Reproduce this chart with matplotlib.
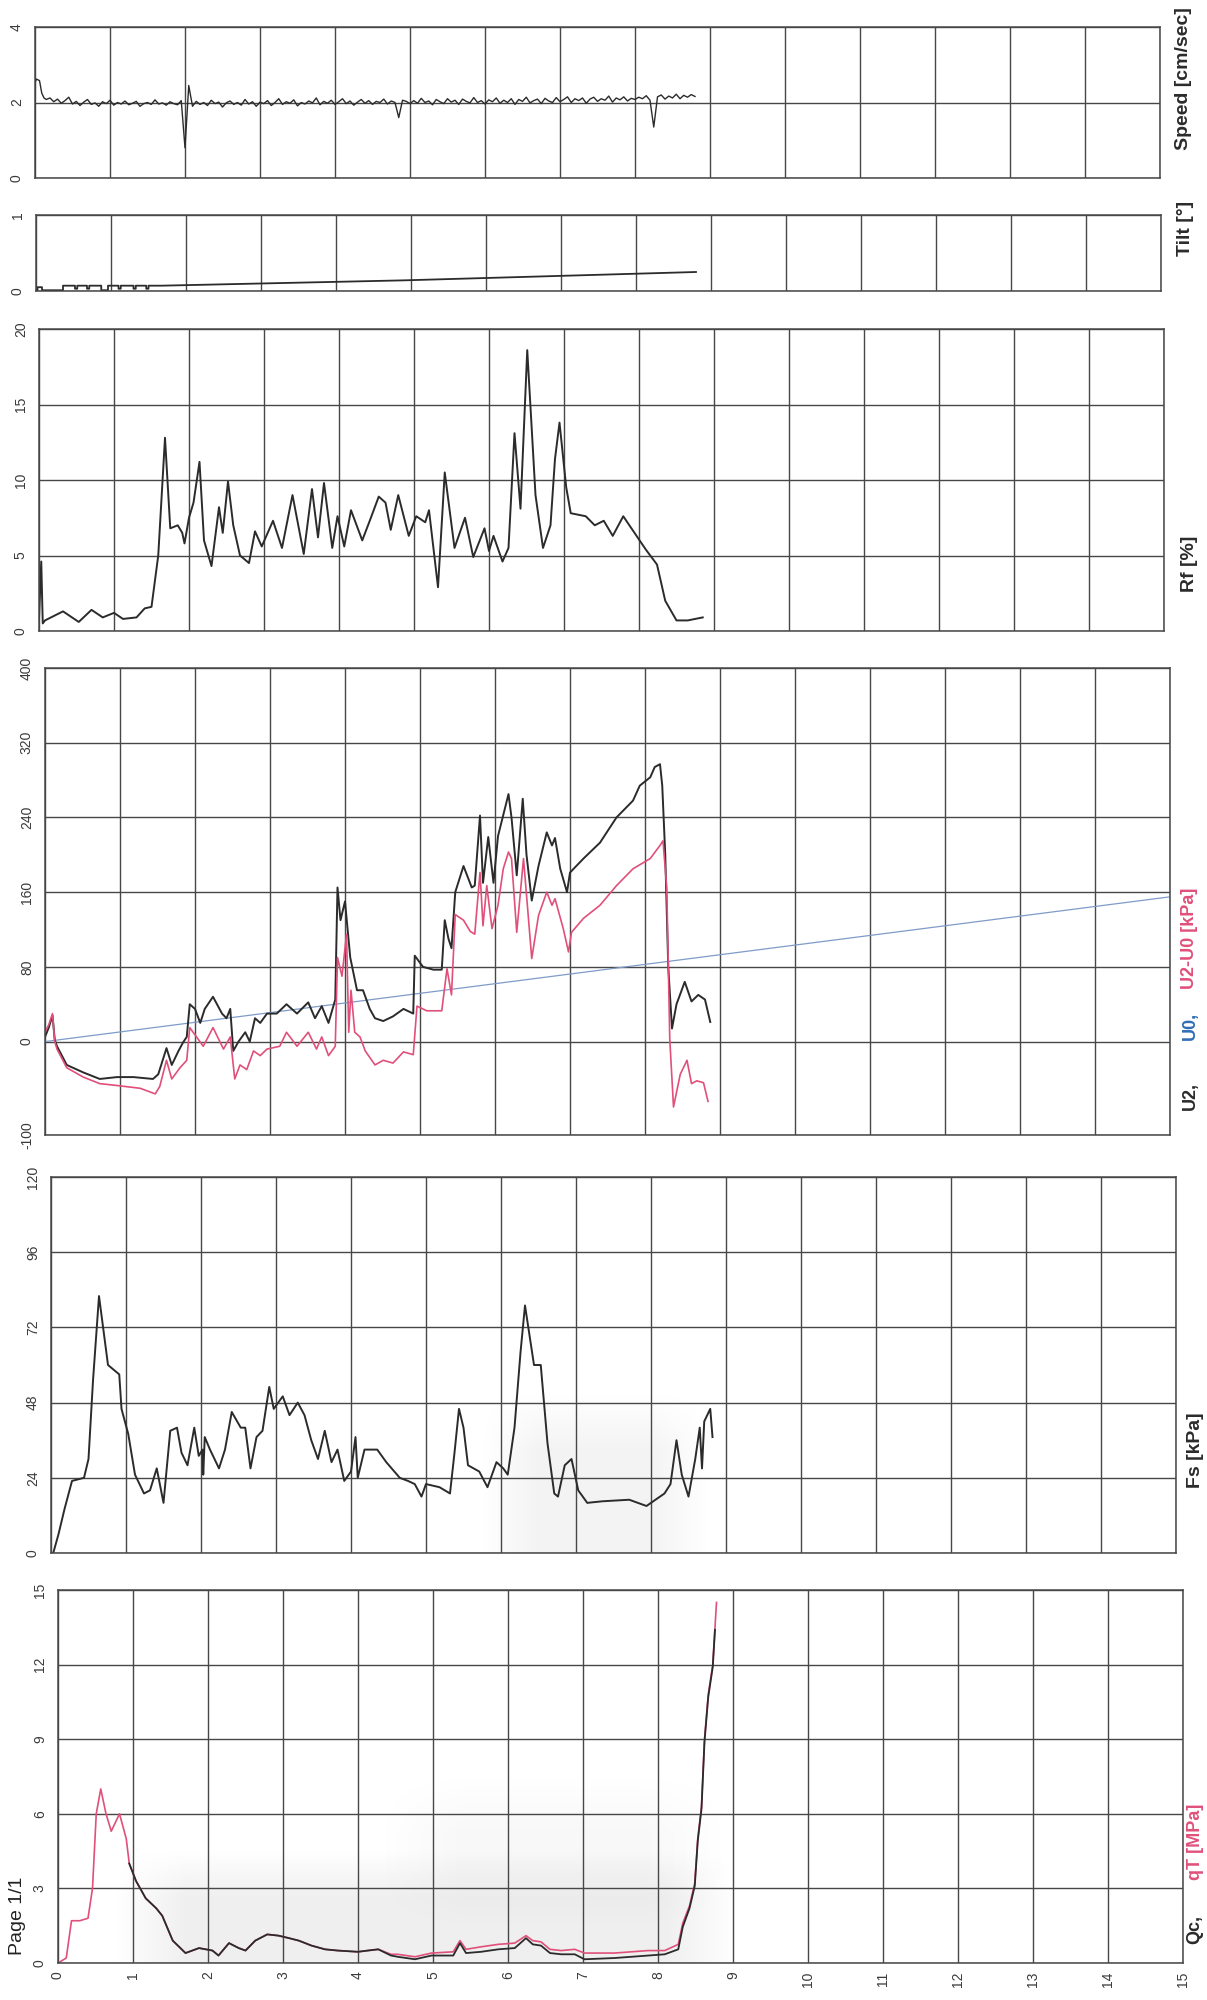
import numpy as np
import matplotlib
matplotlib.use("Agg")
import matplotlib.pyplot as plt

plt.rcParams["font.family"] = ["Liberation Sans", "DejaVu Sans"]
plt.rcParams["axes.unicode_minus"] = False

# --- CPTu log data (depth in m) ---
speed_depth = np.concatenate([[0.0, 0.005, 0.02, 0.06, 0.09, 0.12],
                              np.round(np.arange(0.15, 8.8001, 0.05), 2)])
speed_cms = [0.0, 2.55, 2.62, 2.58, 2.25, 2.12,
             2.08, 2.12, 2.02, 2.09, 1.98, 2.05, 2.14, 1.96, 2.03, 1.92, 2.01, 2.08, 1.95, 1.99, 1.90, 2.02, 1.97, 2.06,
             1.93, 2.00, 1.96, 2.04, 1.94, 1.98, 2.03, 1.90, 1.97, 2.00, 1.95, 2.07, 1.96, 1.99, 1.93, 2.02, 1.97, 1.94, 2.05, 0.80,
             2.45, 1.90, 2.03, 1.95, 2.00, 1.92, 2.06, 1.97, 2.01, 1.88, 1.99, 2.04, 1.95, 2.00, 1.93, 2.08, 1.96, 2.02, 1.90, 2.01,
             1.97, 2.05, 1.92, 2.00, 2.10, 1.95, 2.02, 1.98, 2.07, 1.91, 2.00, 1.96, 2.04, 1.99, 2.12, 1.94, 2.03, 1.98, 2.06, 1.95,
             2.02, 2.10, 1.97, 2.04, 1.93, 2.01, 2.08, 1.98, 2.05, 1.95, 2.03, 2.00, 2.09, 1.96, 2.04, 2.00, 1.60, 2.06, 2.03, 1.97,
             2.05, 1.98, 2.11, 2.00, 2.04, 1.94, 2.08, 2.02, 1.97, 2.10, 2.01, 2.06, 1.95, 2.09, 2.03, 1.99, 2.13, 2.00, 2.05, 1.96,
             2.07, 2.02, 2.12, 1.98, 2.06, 2.00, 2.10, 1.95, 2.08, 2.03, 2.14, 1.99, 2.05, 2.09, 1.97, 2.11, 2.04, 2.00, 2.13, 2.02,
             2.08, 2.15, 2.00, 2.10, 2.05, 2.12, 1.98, 2.09, 2.14, 2.03, 2.10, 2.06, 2.17, 2.01, 2.12, 2.07, 2.15, 2.04, 2.11, 2.08,
             2.14, 2.10, 2.18, 2.06, 1.35, 2.15, 2.20, 2.09, 2.17, 2.12, 2.22, 2.10, 2.19, 2.14, 2.21, 2.16]

tilt_depth = [0.0, 0.02, 0.02, 0.08, 0.08, 0.36, 0.36, 0.52, 0.52, 0.55, 0.55, 0.68, 0.68, 0.71, 0.71, 0.87, 0.87,
              0.96, 0.96, 1.1, 1.1, 1.13, 1.13, 1.3, 1.3, 1.33, 1.33, 1.47, 1.47, 1.5, 1.5, 1.67, 4.9, 8.8]
tilt_deg = [0.0, 0.0, 0.05, 0.05, 0.01, 0.01, 0.07, 0.07, 0.03, 0.03, 0.07, 0.07, 0.03, 0.03, 0.07, 0.07, 0.01,
            0.01, 0.07, 0.07, 0.03, 0.03, 0.07, 0.07, 0.03, 0.03, 0.07, 0.07, 0.03, 0.03, 0.07, 0.07, 0.14, 0.25]

rf_depth = [0.0, 0.03, 0.05, 0.08, 0.12, 0.32, 0.53, 0.7, 0.85, 1.0, 1.12, 1.3, 1.41, 1.5, 1.59, 1.68, 1.75, 1.85,
            1.91, 1.94, 2.0, 2.06, 2.14, 2.2, 2.3, 2.4, 2.45, 2.52, 2.59, 2.68, 2.8, 2.88, 2.97, 3.12, 3.24, 3.38,
            3.53, 3.64, 3.72, 3.8, 3.91, 3.98, 4.07, 4.16, 4.31, 4.41, 4.53, 4.62, 4.69, 4.79, 4.93, 5.03, 5.15,
            5.2, 5.32, 5.41, 5.54, 5.68, 5.79, 5.94, 6.0, 6.06, 6.18, 6.26, 6.34, 6.42, 6.51, 6.62, 6.72, 6.82,
            6.88, 6.94, 7.03, 7.09, 7.29, 7.41, 7.53, 7.65, 7.79, 7.94, 8.09, 8.24, 8.35, 8.5, 8.65, 8.85]
rf_pct = [0.8, 4.6, 0.5, 0.7, 0.8, 1.3, 0.6, 1.4, 0.9, 1.2, 0.8, 0.9, 1.5, 1.6, 5.0, 12.8, 6.8, 7.0, 6.5, 5.8,
          7.5, 8.5, 11.2, 6.0, 4.3, 8.2, 6.5, 9.9, 7.0, 5.0, 4.5, 6.6, 5.6, 7.3, 5.5, 9.0, 5.1, 9.4, 6.2, 9.8,
          5.5, 7.6, 5.6, 8.0, 6.0, 7.3, 8.9, 8.5, 6.7, 9.0, 6.3, 7.6, 7.2, 8.0, 2.9, 10.5, 5.5, 7.5, 4.9, 6.8,
          5.3, 6.3, 4.6, 5.5, 13.1, 8.1, 18.6, 9.0, 5.5, 7.0, 11.4, 13.8, 9.5, 7.8, 7.6, 7.0, 7.3, 6.3, 7.6,
          6.5, 5.4, 4.4, 2.0, 0.7, 0.7, 0.9]

u2_depth = [0.0, 0.05, 0.1, 0.13, 0.16, 0.29, 0.51, 0.73, 0.96, 1.18, 1.44, 1.51, 1.62, 1.69, 1.78, 1.84, 1.89,
            1.93, 2.0, 2.07, 2.13, 2.24, 2.36, 2.42, 2.47, 2.51, 2.58, 2.67, 2.73, 2.8, 2.87, 2.96, 3.09, 3.22,
            3.36, 3.51, 3.6, 3.69, 3.78, 3.87, 3.9, 3.94, 4.0, 4.07, 4.16, 4.24, 4.33, 4.4, 4.51, 4.64, 4.78,
            4.91, 4.93, 5.04, 5.18, 5.29, 5.33, 5.38, 5.42, 5.47, 5.58, 5.69, 5.73, 5.8, 5.84, 5.91, 5.98, 6.04,
            6.18, 6.22, 6.29, 6.37, 6.42, 6.49, 6.58, 6.69, 6.76, 6.8, 6.87, 6.96, 7.0, 7.18, 7.4, 7.62, 7.84,
            7.93, 8.07, 8.13, 8.2, 8.23, 8.27, 8.31, 8.36, 8.42, 8.53, 8.62, 8.71, 8.8, 8.87]
u2_kpa = [5, 15, 28, 2, -5, -25, -33, -40, -38, -38, -40, -35, -7, -25, -10, -1, 5, 40, 35, 20, 35, 48, 30, 25,
          35, -10, 0, 10, 0, 25, 20, 30, 30, 40, 30, 42, 25, 38, 20, 45, 165, 130, 150, 90, 55, 55, 35, 25, 22,
          27, 35, 30, 92, 80, 77, 77, 130, 110, 100, 160, 188, 165, 167, 242, 170, 219, 170, 220, 265, 240,
          178, 260, 200, 151, 188, 224, 210, 218, 185, 160, 181, 196, 213, 240, 258, 274, 283, 294, 297, 274,
          200, 80, 14, 40, 64, 43, 50, 45, 21]

du_depth = [0.0, 0.05, 0.1, 0.13, 0.16, 0.29, 0.51, 0.73, 0.96, 1.27, 1.47, 1.53, 1.62, 1.69, 1.8, 1.89, 1.93,
            2.02, 2.11, 2.24, 2.38, 2.47, 2.53, 2.6, 2.69, 2.78, 2.87, 2.96, 3.13, 3.22, 3.36, 3.51, 3.62, 3.69,
            3.78, 3.87, 3.9, 3.96, 4.02, 4.05, 4.08, 4.13, 4.2, 4.27, 4.4, 4.51, 4.64, 4.78, 4.91, 4.96, 5.09,
            5.29, 5.36, 5.42, 5.47, 5.58, 5.67, 5.73, 5.8, 5.84, 5.89, 5.96, 6.04, 6.11, 6.18, 6.22, 6.29, 6.38,
            6.49, 6.58, 6.69, 6.76, 6.8, 6.91, 6.98, 7.02, 7.18, 7.4, 7.62, 7.84, 8.07, 8.2, 8.24, 8.29, 8.33,
            8.38, 8.47, 8.56, 8.62, 8.69, 8.78, 8.84]
du_kpa = [10, 18, 30, 0, -8, -28, -38, -45, -47, -50, -56, -48, -20, -40, -28, -20, 15, 5, -5, 15, -8, 5, -40,
          -25, -30, -10, -15, -8, -5, 10, -5, 10, -8, 5, -15, -5, 90, 70, 115, 10, 55, 10, 5, -10, -25, -20,
          -23, -11, -14, 38, 33, 33, 78, 50, 136, 130, 118, 115, 181, 124, 167, 121, 146, 185, 203, 196, 117,
          196, 89, 135, 160, 146, 153, 121, 96, 117, 132, 146, 167, 185, 196, 210, 215, 165, 3, -70, -35, -20,
          -45, -42, -44, -64]

u0_depth = [0.0, 15.0]
u0_kpa = [0.0, 155.0]

fs_depth = [0.03, 0.1, 0.18, 0.28, 0.44, 0.5, 0.56, 0.64, 0.76, 0.91, 0.94, 1.03, 1.12, 1.24, 1.32, 1.41, 1.5,
            1.59, 1.68, 1.74, 1.82, 1.91, 1.97, 2.02, 2.03, 2.05, 2.12, 2.24, 2.32, 2.41, 2.53, 2.59, 2.66, 2.74,
            2.82, 2.91, 2.97, 3.09, 3.18, 3.29, 3.38, 3.47, 3.56, 3.65, 3.74, 3.82, 3.91, 4.0, 4.06, 4.09, 4.18,
            4.35, 4.47, 4.65, 4.76, 4.85, 4.94, 5.0, 5.18, 5.32, 5.38, 5.44, 5.5, 5.56, 5.71, 5.82, 5.94, 6.03,
            6.09, 6.18, 6.26, 6.32, 6.44, 6.53, 6.62, 6.71, 6.76, 6.85, 6.94, 7.03, 7.15, 7.35, 7.71, 7.94, 8.18,
            8.26, 8.34, 8.41, 8.5, 8.59, 8.65, 8.68, 8.71, 8.79, 8.82]
fs_kpa = [0, 6, 14, 23, 24, 30, 55, 82, 60, 57, 46, 38, 25, 19, 20, 27, 16, 39, 40, 32, 28, 40, 31, 33, 25, 37,
          33, 27, 33, 45, 40, 40, 27, 37, 39, 53, 46, 50, 44, 48, 44, 36, 30, 39, 29, 33, 23, 26, 37, 24, 33, 33,
          29, 24, 23, 22, 18, 22, 21, 19, 32, 46, 40, 28, 26, 21, 29, 27, 25, 40, 64, 79, 60, 60, 35, 19, 18, 28,
          30, 20, 16, 16.5, 17, 15, 19, 22, 36, 25, 18, 30, 40, 27, 42, 46, 37]

qt_depth = [0.0, 0.11, 0.18, 0.29, 0.4, 0.46, 0.51, 0.57, 0.64, 0.71, 0.82, 0.91, 0.95, 1.04, 1.17, 1.31, 1.39,
            1.53, 1.7, 1.88, 2.06, 2.14, 2.28, 2.41, 2.5, 2.63, 2.79, 2.94, 3.08, 3.21, 3.38, 3.56, 3.73, 4.0,
            4.13, 4.27, 4.44, 4.53, 4.76, 4.98, 5.27, 5.36, 5.44, 5.64, 5.87, 6.09, 6.24, 6.33, 6.44, 6.56, 6.71,
            6.89, 7.02, 7.42, 7.87, 8.09, 8.27, 8.33, 8.42, 8.49, 8.53, 8.58, 8.62, 8.67, 8.73, 8.76, 8.78]
qt_mpa = [0.0, 0.2, 1.7, 1.7, 1.8, 3.0, 6.0, 7.0, 6.0, 5.3, 6.0, 5.0, 4.0, 3.3, 2.6, 2.2, 1.9, 0.9, 0.4, 0.6,
          0.5, 0.3, 0.8, 0.6, 0.5, 0.9, 1.15, 1.1, 1.0, 0.9, 0.7, 0.55, 0.5, 0.45, 0.5, 0.55, 0.35, 0.35, 0.25,
          0.4, 0.45, 0.9, 0.55, 0.65, 0.75, 0.8, 1.1, 0.9, 0.85, 0.55, 0.5, 0.55, 0.4, 0.4, 0.5, 0.5, 0.75, 1.6,
          2.3, 3.2, 5.0, 6.3, 9.0, 10.8, 12.0, 13.5, 14.5]

# black Qc trace shows from ~1 m, where it separates from qT
qc_depth = [0.95, 1.04, 1.17, 1.31, 1.39, 1.53, 1.7, 1.88, 2.06, 2.14, 2.28, 2.41, 2.5, 2.63, 2.79, 2.94, 3.08,
            3.21, 3.38, 3.56, 3.73, 4.0, 4.13, 4.27, 4.44, 4.53, 4.76, 4.98, 5.27, 5.36, 5.44, 5.64, 5.87, 6.09,
            6.24, 6.33, 6.44, 6.56, 6.71, 6.89, 7.02, 7.42, 7.87, 8.09, 8.27, 8.33, 8.42, 8.49, 8.53, 8.58, 8.62,
            8.67, 8.73, 8.76]
qc_mpa = [4.0, 3.3, 2.6, 2.2, 1.9, 0.9, 0.4, 0.6, 0.5, 0.3, 0.8, 0.6, 0.5, 0.9, 1.15, 1.1, 1.0, 0.9, 0.7, 0.55,
          0.5, 0.45, 0.5, 0.55, 0.3, 0.25, 0.15, 0.3, 0.3, 0.8, 0.4, 0.45, 0.55, 0.6, 1.0, 0.75, 0.7, 0.4, 0.35,
          0.35, 0.15, 0.2, 0.3, 0.35, 0.55, 1.45, 2.2, 3.1, 4.9, 6.2, 8.9, 10.7, 11.9, 13.4]

depth_ticks = list(range(16))

# --- page / style ---
W, H = 1207, 2000
fig = plt.figure(figsize=(W / 100, H / 100), dpi=100)
fig.patch.set_facecolor("white")

GRID = "#474747"
INK = "#2b2b2b"
PINK = "#e0507a"
BLUE = "#2f6db5"
U0_LINE = "#7f9cc8"


def panel(left, top, right, bottom, ylim, yticks):
    # panel placed by page pixel box
    ax = fig.add_axes([left / W, 1 - bottom / H, (right - left) / W, (bottom - top) / H])
    ax.set_xlim(0, 15)
    ax.set_ylim(*ylim)
    ax.set_xticks(depth_ticks)
    ax.set_yticks(yticks)
    ax.grid(True, color=GRID, lw=1.0)
    ax.set_axisbelow(True)
    for s in ax.spines.values():
        s.set_color(GRID)
        s.set_linewidth(1.1)
    ax.tick_params(length=0, labelsize=10, labelcolor="#3a3a3a", pad=8)
    ax.tick_params(axis="y", labelrotation=90)
    ax.tick_params(axis="x", labelbottom=False)
    for lab in ax.get_yticklabels():
        lab.set_va("center")
    return ax


def haze(ax, x0, x1, y0, y1, strength, soft):
    # soft grey scanner shading, fading out at the edges
    xlo, xhi = ax.get_xlim()
    ylo, yhi = ax.get_ylim()
    gx = np.linspace(xlo, xhi, 300)
    gy = np.linspace(ylo, yhi, 200)
    fx = np.clip(np.minimum(gx - x0, x1 - gx) / soft[0] + 0.5, 0, 1)
    fy = np.clip(np.minimum(gy - y0, y1 - gy) / soft[1] + 0.5, 0, 1)
    rgba = np.zeros((gy.size, gx.size, 4))
    rgba[..., 3] = strength * np.outer(fy, fx)
    ax.imshow(rgba, extent=(xlo, xhi, ylo, yhi), origin="lower", aspect="auto",
              interpolation="bilinear", zorder=0.2)


def side_label(x, y, s, color=INK, size=13):
    fig.text(x / W, 1 - y / H, s, rotation=90, rotation_mode="anchor", ha="left", va="center",
             fontsize=size, fontweight="bold", color=color)


# Speed
ax = panel(35, 27, 1160, 178, (0, 4), [0, 2, 4])
ax.plot(speed_depth, speed_cms, color=INK, lw=1.0)
side_label(1183, 150, "Speed [cm/sec]", size=14)

# Tilt
ax = panel(36, 215, 1161, 291, (0, 1), [0, 1])
ax.plot(tilt_depth, tilt_deg, color=INK, lw=1.3)
side_label(1185, 256, "Tilt [°]", size=14)

# Friction ratio
ax = panel(39, 329, 1164, 631, (0, 20), [0, 5, 10, 15, 20])
ax.plot(rf_depth, rf_pct, color=INK, lw=1.4)
side_label(1189, 592, "Rf [%]", size=14)

# Pore pressure
ax = panel(45, 668, 1170, 1135, (-100, 400), [-100, 0, 80, 160, 240, 320, 400])
ax.plot(u0_depth, u0_kpa, color=U0_LINE, lw=0.9)
ax.plot(u2_depth, u2_kpa, color=INK, lw=1.4)
ax.plot(du_depth, du_kpa, color=PINK, lw=1.2)
side_label(1190, 1110, "U2,", INK)
side_label(1190, 1040, "U0,", BLUE)
side_label(1190, 989, "U2-U0 [kPa]", PINK)

# Sleeve friction
ax = panel(51, 1177, 1176, 1553, (0, 120), [0, 24, 48, 72, 96, 120])
haze(ax, 6.1, 8.4, -20, 42, 0.05, (0.8, 20))
ax.plot(fs_depth, fs_kpa, color=INK, lw=1.4)
side_label(1196, 1488, "Fs [kPa]", size=14)

# Cone resistance
ax = panel(58, 1590, 1183, 1963, (0, 15), [0, 3, 6, 9, 12, 15])
haze(ax, 1.2, 8.6, -2, 3.6, 0.065, (1.0, 2.0))
haze(ax, 4.8, 8.4, 2.5, 6.5, 0.03, (1.2, 2.5))
ax.plot(qt_depth, qt_mpa, color=PINK, lw=1.2)
ax.plot(qc_depth, qc_mpa, color=INK, lw=1.3)
ax.tick_params(axis="x", labelbottom=True, labelrotation=90, labelsize=10, pad=6)
side_label(1195, 1944, "Qc,", INK)
side_label(1195, 1880, "qT [MPa]", PINK)

fig.text(18 / W, 1 - 1955 / H, "Page 1/1", rotation=90, rotation_mode="anchor", ha="left", va="center",
         fontsize=14, color="#222222")

fig.savefig("out.png", dpi=100, facecolor="white")
